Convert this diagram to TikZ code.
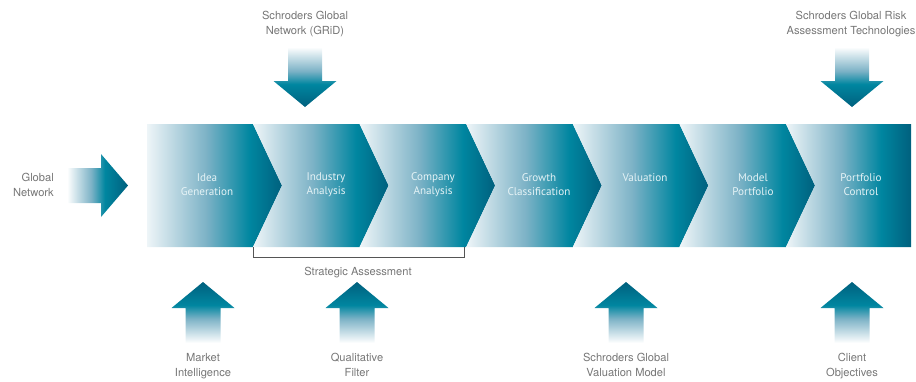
\documentclass[tikz,border=0pt]{standalone}
\usepackage{fontspec}
\setmainfont{TeX Gyre Heros}
\newfontfamily\stepFont{PT Sans}
\usetikzlibrary{positioning}
\tikzstyle{pixelGrid} = [x = 0.03cm, y = -0.03cm]
\definecolor{chevLight}{RGB}{238,245,248}
\definecolor{chevMid}{RGB}{124,178,198}
\definecolor{chevTeal}{RGB}{0,134,160}
\definecolor{chevDark}{RGB}{0,96,126}
\definecolor{labelGray}{RGB}{118,118,118}
\definecolor{bracketGray}{RGB}{85,85,85}
\pgfdeclarehorizontalshading{chevronShade}{100bp}{color(0bp)=(chevLight); color(25bp)=(chevLight); color(47bp)=(chevMid); color(63bp)=(chevTeal); color(75bp)=(chevDark); color(100bp)=(chevDark)}
\pgfdeclarehorizontalshading{arrowShade}{100bp}{color(0bp)=(white); color(25bp)=(white); color(45bp)=(chevMid); color(56bp)=(chevTeal); color(75bp)=(chevDark); color(100bp)=(chevDark)}
\tikzstyle{stepStyle} = [shading=chevronShade]
\tikzstyle{arrowStyle} = [shading=arrowShade]
\tikzstyle{stepText} = [font=\stepFont\fontsize{9.5}{12}\selectfont, text=white!90!chevTeal, align=center, inner sep=0]
\tikzstyle{inputText} = [font=\fontsize{9.5}{12.8}\selectfont, text=labelGray, align=center, inner sep=0]
\newcommand{\bandTop}{124}
\newcommand{\bandBottom}{247}
\newcommand{\bandMid}{185.5}
\newcommand{\stepWidth}{106.6}
\newcommand{\tipDepth}{29}
% one chevron, #1 = x of its notch
\newcommand{\chevron}[1]{\shade [stepStyle] (#1, \bandTop) -- (#1 + \stepWidth, \bandTop) -- (#1 + \stepWidth + \tipDepth, \bandMid) -- (#1 + \stepWidth, \bandBottom) -- (#1, \bandBottom) -- (#1 + \tipDepth, \bandMid) -- cycle;}
\newcommand{\stepLabel}[4]{\node [stepText] (#1) at (#2, #3) {#4};}
% block arrows, #1 = x (or y) of the arrow axis
\newcommand{\downArrow}[1]{\shade [arrowStyle, shading angle=-90] (#1 - 17, 47) -- (#1 + 17, 47) -- (#1 + 17, 81) -- (#1 + 31.5, 81) -- (#1, 107) -- (#1 - 31.5, 81) -- (#1 - 17, 81) -- cycle;}
\newcommand{\upArrow}[1]{\shade [arrowStyle, shading angle=90] (#1 - 17.5, 343) -- (#1 + 17.5, 343) -- (#1 + 17.5, 308) -- (#1 + 31.5, 308) -- (#1, 282) -- (#1 - 31.5, 308) -- (#1 - 17.5, 308) -- cycle;}
\newcommand{\rightArrow}[1]{\shade [arrowStyle] (67, #1 - 17.5) -- (101, #1 - 17.5) -- (101, #1 - 31.5) -- (128, #1) -- (101, #1 + 31.5) -- (101, #1 + 17.5) -- (67, #1 + 17.5) -- cycle;}

\begin{document}
\begin{tikzpicture}[pixelGrid]
  \useasboundingbox (0,0) rectangle (916,381);
  % process band
  \shade [stepStyle] (147, \bandTop) -- (253, \bandTop) -- (282, \bandMid) -- (253, \bandBottom) -- (147, \bandBottom) -- cycle;
  \foreach \notch in {253, 359.6, 466.2, 572.8, 679.4} {
    \chevron{\notch}
  }
  \shade [stepStyle] (786, \bandTop) -- (911, \bandTop) -- (911, \bandBottom) -- (786, \bandBottom) -- (815, \bandMid) -- cycle;
  \stepLabel{idea}{207}{185}{Idea\\Generation}
  \stepLabel{industry}{326}{185}{Industry\\Analysis}
  \stepLabel{company}{433}{185}{Company\\Analysis}
  \stepLabel{growth}{539}{185}{Growth\\Classification}
  \stepLabel{valuation}{645}{178}{Valuation}
  \stepLabel{model}{753}{185}{Model\\Portfolio}
  \stepLabel{control}{861}{185}{Portfolio\\Control}
  % inputs
  \downArrow{305}\downArrow{852}
  \upArrow{203}\upArrow{357}\upArrow{626}\upArrow{852}
  \rightArrow{\bandMid}
  \node [inputText, anchor=north] (grid) at (305, 10.5) {Schroders Global\\Network (GRiD)};
  \node [inputText, anchor=north] (risk) at (851, 10.5) {Schroders Global Risk\\Assessment Technologies};
  \node [inputText, anchor=east, align=right] (network) at (54, 185) {Global\\Network};
  \node [inputText, anchor=north] (market) at (203, 353) {Market\\Intelligence};
  \node [inputText, anchor=north] (filter) at (357, 353) {Qualitative\\Filter};
  \node [inputText, anchor=north] (valModel) at (626, 353) {Schroders Global\\Valuation Model};
  \node [inputText, anchor=north] (client) at (852, 353) {Client\\Objectives};
  % bracket under the two analysis steps
  \draw [bracketGray, line width=0.5pt] (253, \bandBottom) -- (253, 257) -- (464, 257) -- (464, \bandBottom);
  \node [inputText] (strategic) at (358, 272.5) {Strategic Assessment};
\end{tikzpicture}
\end{document}
